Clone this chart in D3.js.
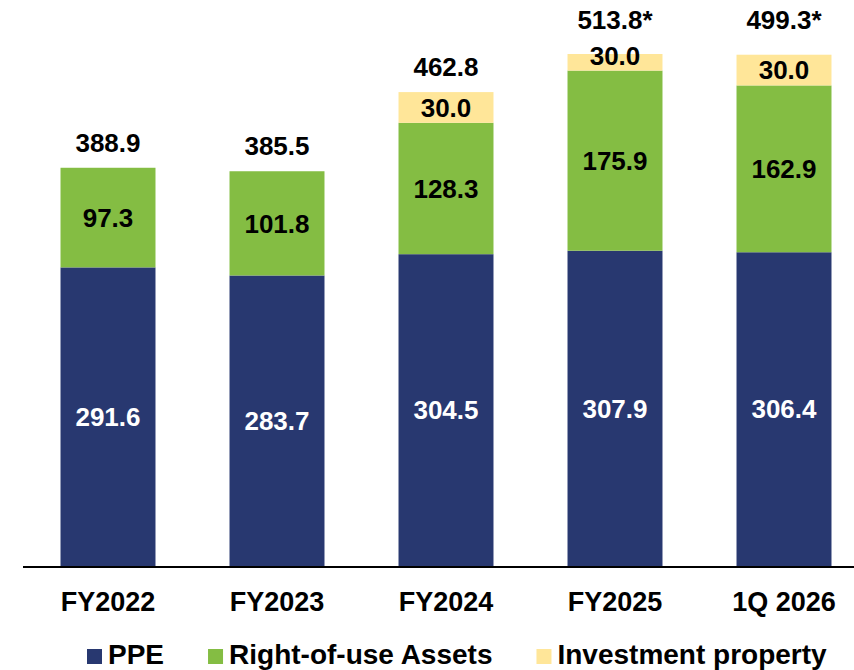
<!DOCTYPE html>
<html>
<head>
<meta charset="utf-8">
<script src="https://cdn.jsdelivr.net/npm/d3@7"></script>
<style>
  body { margin: 0; background: #fff; }
  text { font-family: "Liberation Sans", Arial, sans-serif; font-weight: bold; }
</style>
</head>
<body>
<div id="chart"></div>
<script>
// Stacked bar chart - PPE / right-of-use / investment property

const categories = ["FY2022", "FY2023", "FY2024", "FY2025", "1Q 2026"];
const ppe = [291.6, 283.7, 304.5, 307.9, 306.4];
const rightOfUse = [97.3, 101.8, 128.3, 175.9, 162.9];
const investment = [0, 0, 30.0, 30.0, 30.0];
const totals = [388.9, 385.5, 462.8, 513.8, 499.3];
const starred = [false, false, false, true, true];

const seriesNames = ["PPE", "Right-of-use Assets", "Investment property"];
const seriesKeys = ["ppe", "rou", "inv"];
const colors = ["#283870", "#84BD43", "#FFE699"];
const labelColors = ["#ffffff", "#000000", "#000000"];

const table = categories.map((c, i) => ({
  cat: c, ppe: ppe[i], rou: rightOfUse[i], inv: investment[i],
  total: totals[i], star: starred[i]
}));

const width = 854, height = 670;
const svg = d3.select("#chart").append("svg")
  .attr("width", width)
  .attr("height", height);

const yMax = 500;
const x = d3.scaleBand()
  .domain(categories)
  .range([23.5, 868.5])
  .paddingInner(0.438)
  .paddingOuter(0.219);

const y = d3.scaleLinear().domain([0, yMax]).range([566, 54]);

const stack = d3.stack().keys(seriesKeys);
const layers = stack(table);

// Bars (clipped at the top of the value axis)
const layer = svg.selectAll("g.layer")
  .data(layers)
  .join("g")
  .attr("class", "layer")
  .attr("fill", (d, i) => colors[i]);

layer.selectAll("rect")
  .data(d => d.filter(s => s[1] - s[0] > 0))
  .join("rect")
  .attr("x", d => x(d.data.cat))
  .attr("width", x.bandwidth())
  .attr("y", d => y(Math.min(d[1], yMax)))
  .attr("height", d => y(d[0]) - y(Math.min(d[1], yMax)));

// Segment labels
layers.forEach((ly, li) => {
  svg.append("g")
    .selectAll("text")
    .data(ly.filter(s => s[1] - s[0] > 0))
    .join("text")
    .attr("x", d => x(d.data.cat) + x.bandwidth() / 2)
    .attr("y", d => y((d[0] + d[1]) / 2))
    .attr("dy", "0.36em")
    .attr("text-anchor", "middle")
    .attr("font-size", "26px")
    .attr("fill", labelColors[li])
    .text(d => (d[1] - d[0]).toFixed(1));
});

// Total labels
svg.append("g")
  .selectAll("text")
  .data(table)
  .join("text")
  .attr("x", d => x(d.cat) + x.bandwidth() / 2)
  .attr("y", d => d.star ? y(yMax) - 25 : y(d.total) - 16)
  .attr("text-anchor", "middle")
  .attr("font-size", "26px")
  .attr("fill", "#000")
  .text(d => d.total.toFixed(1) + (d.star ? "*" : ""));

// Baseline
svg.append("line")
  .attr("x1", 23).attr("x2", width)
  .attr("y1", y(0) + 1).attr("y2", y(0) + 1)
  .attr("stroke", "#000")
  .attr("stroke-width", 2);

// Category labels
const xAxis = svg.append("g")
  .attr("transform", "translate(0," + (y(0) + 2) + ")")
  .call(d3.axisBottom(x).tickSize(0).tickPadding(0));
xAxis.select(".domain").remove();
xAxis.selectAll("text")
  .attr("y", 43)
  .attr("dy", 0)
  .attr("font-size", "27px")
  .attr("font-family", null)
  .attr("fill", "#000");

// Legend
const legend = svg.append("g").attr("class", "legend");
let lx = 87;
seriesNames.forEach((name, i) => {
  legend.append("rect")
    .attr("x", lx).attr("y", 649)
    .attr("width", 15).attr("height", 15)
    .attr("fill", colors[i]);
  const t = legend.append("text")
    .attr("x", lx + 21)
    .attr("y", 664)
    .attr("font-size", "28px")
    .attr("fill", "#000")
    .text(name);
  lx = lx + 21 + t.node().getComputedTextLength() + 44;
});
</script>
</body>
</html>
